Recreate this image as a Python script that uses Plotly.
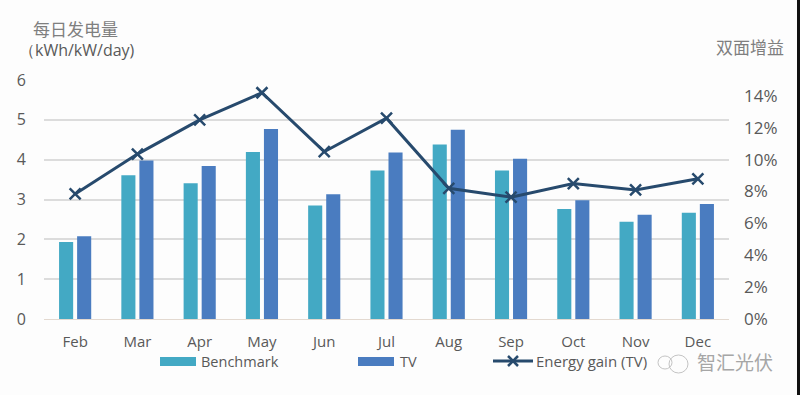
import plotly.graph_objects as go

months = ["Feb", "Mar", "Apr", "May", "Jun", "Jul", "Aug", "Sep", "Oct", "Nov", "Dec"]
benchmark = [1.93, 3.61, 3.41, 4.19, 2.85, 3.73, 4.38, 3.73, 2.76, 2.44, 2.67]
tv = [2.08, 3.98, 3.84, 4.77, 3.13, 4.18, 4.75, 4.02, 2.98, 2.62, 2.89]
gain = [7.85, 10.35, 12.5, 14.2, 10.5, 12.6, 8.2, 7.65, 8.5, 8.1, 8.8]
left_ticks = [0, 1, 2, 3, 4, 5, 6]
right_ticks = [0, 2, 4, 6, 8, 10, 12, 14]
right_labels = ["0%", "2%", "4%", "6%", "8%", "10%", "12%", "14%"]

W, H = 800, 395
L, R, T, B = 44, 71, 80, 76
TEXT = "#595959"
TEAL = "#43a9c4"
BLUE = "#4a7cc0"
NAVY = "#274a6d"
BG = "#fdfdfd"
FONT = "Open Sans"
CJK = "Noto Sans CJK SC"


def px(v):
    return (v - L) / (W - L - R)


def py(v):
    return (H - B - v) / (H - T - B)


fig = go.Figure()
fig.add_bar(x=months, y=benchmark, name="Benchmark", marker=dict(color=TEAL, line_width=0), yaxis="y")
fig.add_bar(x=months, y=tv, name="TV", marker=dict(color=BLUE, line_width=0), yaxis="y")
fig.add_scatter(
    x=months, y=gain, name="Energy gain (TV)", mode="lines+markers", yaxis="y2",
    line=dict(color=NAVY, width=3),
    marker=dict(symbol="x-thin", size=11, line=dict(color=NAVY, width=2.5), color=NAVY),
)


def pshape(**kw):
    return dict(xref="paper", yref="paper", **kw)


shapes = [
    pshape(type="rect", x0=px(160), x1=px(196), y0=py(366), y1=py(357), fillcolor=TEAL, line_width=0),
    pshape(type="rect", x0=px(358), x1=px(394), y0=py(366), y1=py(357), fillcolor=BLUE, line_width=0),
    pshape(type="line", x0=px(493), x1=px(533), y0=py(361), y1=py(361), line=dict(color=NAVY, width=3)),
    pshape(type="line", x0=px(508), x1=px(518), y0=py(356), y1=py(366), line=dict(color=NAVY, width=2.5)),
    pshape(type="line", x0=px(508), x1=px(518), y0=py(366), y1=py(356), line=dict(color=NAVY, width=2.5)),
    # watermark icon
    pshape(type="circle", x0=px(658), x1=px(672), y0=py(369), y1=py(356), line=dict(color="#c4c4c4", width=1)),
    pshape(type="circle", x0=px(669), x1=px(688), y0=py(373), y1=py(355), line=dict(color="#c4c4c4", width=1)),
    # right edge of the screenshot
    pshape(type="rect", x0=px(797), x1=px(800), y0=py(395), y1=py(0), fillcolor="#111111", line_width=0),
]


def label(text, x, y, size, color=TEXT, family=FONT, anchor="left"):
    return dict(text=text, xref="paper", yref="paper", x=px(x), y=py(y), xanchor=anchor, yanchor="middle",
                showarrow=False, font=dict(family=family, size=size, color=color))


annotations = [
    label("每日发电量", 31, 28, 17, "#7f7f7f", CJK),
    label("（kWh/kW/day)", 17, 50, 16, TEXT),
    label("双面增益", 714, 47, 17, "#7f7f7f", CJK),
    label("Benchmark", 199, 361, 14.5),
    label("TV", 398, 361, 14.5),
    label("Energy gain (TV)", 534, 361, 15),
    label("智汇光伏", 695, 361, 19, "#a6a6a6", CJK),
]

fig.update_layout(
    width=W, height=H, autosize=False,
    margin=dict(l=L, r=R, t=T, b=B, autoexpand=False),
    paper_bgcolor=BG, plot_bgcolor=BG,
    showlegend=False, barmode="group", bargap=0.42, bargroupgap=0.22,
    font=dict(family=FONT, size=15, color=TEXT),
    xaxis=dict(range=[-0.5, 10.5], showgrid=False, showline=True, linecolor="#e3d9d0", linewidth=1, ticks="",
               automargin=False, tickfont=dict(size=15), ticklabelstandoff=9),
    yaxis=dict(range=[0, 6], tickvals=left_ticks, gridcolor="#dcdcdc", gridwidth=1.5,
               automargin=False, zeroline=False, ticks="", ticklabelstandoff=17, tickfont=dict(size=16)),
    yaxis2=dict(range=[0, 15], tickvals=right_ticks, ticktext=right_labels, overlaying="y", side="right",
                automargin=False, showgrid=False, zeroline=False, ticks="", ticklabelstandoff=14,
                tickfont=dict(size=17)),
    shapes=shapes, annotations=annotations,
)

fig.write_html(
    "out.html",
    config=dict(displayModeBar=False),
    post_script=f"document.body.style.margin='0';document.body.style.background='{BG}';document.body.style.overflow='hidden';",
)
